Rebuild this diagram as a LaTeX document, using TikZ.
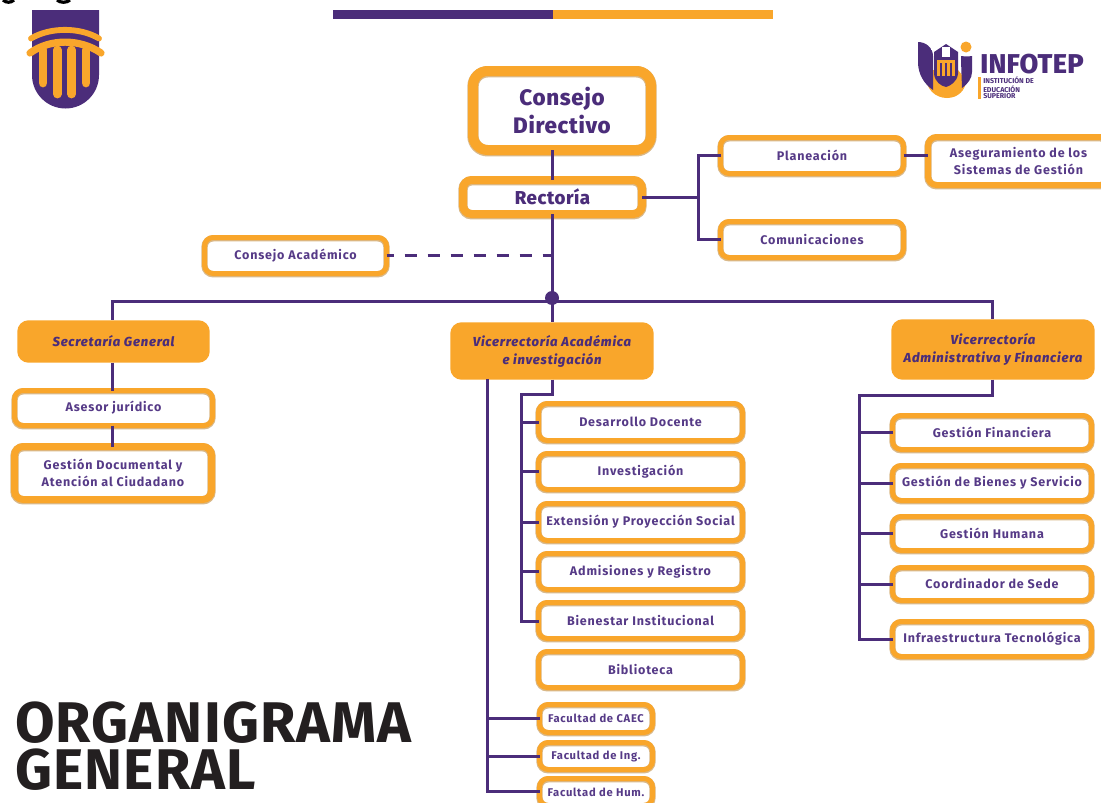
\documentclass[tikz,border=0pt]{standalone}
\usepackage{fontspec}
\usetikzlibrary{shadows}
\setmainfont{Fira Sans}
\newfontfamily\boxf[LetterSpace=6.5]{Fira Sans}
\newfontfamily\hvyf[LetterSpace=3]{Fira Sans ExtraBold}
\newfontfamily\hvyi[LetterSpace=6]{Fira Sans ExtraBold Italic}
\newfontfamily\titlef[LetterSpace=2]{Fira Sans}
\newfontfamily\logof[LetterSpace=1]{Fira Sans ExtraBold}
\definecolor{purp}{HTML}{4B2D7A}
\definecolor{txtp}{HTML}{563A87}
\definecolor{org}{HTML}{F9A62B}
\definecolor{orgd}{HTML}{E0952A}
\definecolor{soft}{HTML}{D9B98A}
\tikzset{
 x=0.75pt,y=-0.75pt,
 conn/.style={draw=purp,line width=2.25pt},
 bxbase/.style={align=center,inner sep=0pt,outer sep=0pt,text=txtp,font=\boxf\bfseries\fontsize{9.4pt}{12.8pt}\selectfont},
 frame/.style={bxbase,draw=org,line width=#1*0.75pt,rounded corners=6.5pt,
   general shadow={fill=orgd,shadow xshift=-0.6pt,shadow yshift=-0.7pt},
   preaction={fill=white},
   preaction={draw=soft,line width=#1*0.75pt+1pt,transform canvas={yshift=-0.6pt}}},
 frame/.default=5,
 small frame/.style={frame,font=\boxf\bfseries\fontsize{8.4pt}{10pt}\selectfont},
 solid box/.style={bxbase,fill=org,rounded corners=8.5pt,text=purp,font=\hvyi\fontsize{9.8pt}{13.5pt}\selectfont},
}
\newcommand\bx[7]{\node[#2,minimum width={(#5-#3)*0.75pt-\pgflinewidth},minimum height={(#6-#4)*0.75pt-\pgflinewidth}] (#1) at ({(#3+#5)/2},{(#4+#6)/2}) {#7};}
\begin{document}
\begin{tikzpicture}
\path[use as bounding box] (0,0) rectangle (1101,803);
\clip (0,0) rectangle (1101,803);
\fill[white] (0,0) rectangle (1101,803);
% top clipped letter fragments
\draw[black,line width=2.4pt] (3,0) .. controls (6,3) and (11,3) .. (14,0);
\draw[black,line width=2.4pt] (57,0) .. controls (60,3) and (67,3) .. (70,0);
% top bar
\fill[purp] (333,10) rectangle (553,19);
\fill[org] (553,10) rectangle (773,19);
% left crest
\fill[purp] (32,10) -- (99,10) -- (99,75) arc[start angle=0,end angle=180,radius=33.5] -- cycle;
\foreach \xa/\ya in {43/83,57.3/94,71.6/94,86/83}{
  \draw[org,line width=6.6pt,line cap=round] (\xa,50) -- (\xa,\ya);}
\draw[org,line width=4.4pt,line cap=round] (31,38.5) .. controls (50,27) and (80,27) .. (99,38.5);
\draw[org,line width=5.4pt,line cap=round] (30,53) .. controls (50,38.5) and (80,38.5) .. (101,53);
% right logo
\fill[org] (925,72) .. controls (925,90) and (936,98) .. (947,98) .. controls (958,98) and (966,90) .. (966,80) -- (958,70) -- (932,70) -- cycle;
\fill[purp] (918,42) .. controls (926,42) and (933,48) .. (933,56) -- (933,90) .. controls (924,84) and (918,74) .. (918,62) -- cycle;
\fill[purp] (961,56) .. controls (966,57) and (972,56) .. (972,56) -- (972,72) .. controls (972,78) and (968,84) .. (962,88) -- (961,60) -- cycle;
\fill[white] (931,42) rectangle (960,50);
\fill[purp] (934,52) -- (946,44) -- (958,52) -- (958,74) .. controls (957,82) and (950,86) .. (946,87) .. controls (941,86) and (935,82) .. (934,74) -- cycle;
\fill[org] (937,60) rectangle (955,76);
\foreach \xa in {941,946,951}{\draw[purp,line width=0.8pt] (\xa,63) -- (\xa,76);}
\fill[white] (942,47) rectangle (950,57);
\fill[org] (966,47) circle (5.5);
\node[anchor=west,inner sep=0pt,text=purp,font=\logof\fontsize{20.4pt}{21pt}\selectfont] (inf) at (980,64) {INFOTEP};
\fill[org] (977.5,77) rectangle (980.5,99);
\node[anchor=west,align=left,inner sep=0pt,text=purp,font=\bfseries\fontsize{5.3pt}{5pt}\selectfont] (ies) at (983,88) {INSTITUCIÓN DE\\EDUCACIÓN\\SUPERIOR};
% boxes
\bx{cd}{frame=10,font=\hvyf\fontsize{16.8pt}{21pt}\selectfont,rounded corners=11pt,text=purp}{468}{66}{656}{155}{Consejo\\Directivo}
\bx{rec}{frame=8,font=\hvyf\fontsize{14pt}{14pt}\selectfont,text=purp}{459}{176}{646}{218}{Rectoría}
\bx{plan}{frame}{718}{135}{906}{176}{Planeación}
\bx{aseg}{frame=6}{925}{134}{1112}{188}{Aseguramiento de los\\Sistemas de Gestión}
\bx{com}{frame}{718}{219}{906}{260}{Comunicaciones}
\bx{ca}{frame}{202}{235}{389}{276}{Consejo Académico}
\bx{sg}{solid box}{17}{320}{210}{363}{Secretaría General}
\bx{aj}{frame}{12}{388}{215}{428}{Asesor jurídico}
\bx{gd}{frame=7}{11}{443}{215}{503}{Gestión Documental y\\Atención al Ciudadano}
\bx{va}{solid box}{450}{322}{654}{380}{Vicerrectoría Académica\\e investigación}
\bx{vf}{solid box}{891}{319}{1095}{380}{Vicerrectoría\\Administrativa y Financiera}
\bx{d1}{frame}{536}{401}{745}{443}{Desarrollo Docente}
\bx{d2}{frame}{536}{451}{745}{492}{Investigación}
\bx{d3}{frame}{536}{501}{745}{543}{Extensión y Proyección Social}
\bx{d4}{frame}{536}{551}{745}{592}{Admisiones y Registro}
\bx{d5}{frame}{536}{600}{745}{641}{Bienestar Institucional}
\bx{d6}{frame}{536}{649}{745}{690}{Biblioteca}
\bx{f1}{small frame}{537}{702}{655}{735}{Facultad de CAEC}
\bx{f2}{small frame}{537}{740}{655}{772}{Facultad de Ing.}
\bx{f3}{small frame}{537}{776}{655}{808}{Facultad de Hum.}
\bx{r1}{frame}{890}{413}{1094}{452}{Gestión Financiera}
\bx{r2}{frame}{890}{463}{1094}{503}{Gestión de Bienes y Servicio}
\bx{r3}{frame}{890}{514}{1094}{553}{Gestión Humana}
\bx{r4}{frame}{890}{565}{1094}{603}{Coordinador de Sede}
\bx{r5}{frame}{890}{619}{1094}{659}{Infraestructura Tecnológica}
% junctions
\coordinate (hub) at (552,298);
\coordinate (busL) at (112,301);
\coordinate (busR) at (992,301);
\coordinate (dashend) at (552,255);
\coordinate (rj) at (698,197);
\coordinate (vc1) at (487,380);
\coordinate (vc1b) at (487,791);
\coordinate (vc2) at (552,394);
\coordinate (vc2c) at (521,394);
\coordinate (vc2b) at (521,621);
\coordinate (vr1) at (992,395);
\coordinate (vr2) at (859,395);
\coordinate (vr2b) at (859,639);
\path[conn] (hub |- cd.south) -- (hub |- rec.north);
\path[conn] (hub |- rec.south) -- (hub);
\path[conn] (hub) -- (hub |- va.north);
\path[conn,line cap=rect] (busL) -- (busR);
\path[conn] (busL) -- (busL |- sg.north);
\path[conn] (busR) -- (busR |- vf.north);
\path[conn] (busL |- sg.south) -- (busL |- aj.north);
\path[conn] (busL |- aj.south) -- (busL |- gd.north);
\path[conn,dash pattern=on 9pt off 8.25pt,dash phase=3.75pt] (ca.east) -- (ca.east -| dashend);
\path[conn] (rec.east |- rj) -- (rj);
\path[conn] (rj) |- (plan.west);
\path[conn] (rj) |- (com.west);
\path[conn] (plan.east) -- (plan.east -| aseg.west);
\path[conn,line cap=rect] (vc1) -- (vc1b);
\path[conn] (vc1 |- f1.west) -- (f1.west);
\path[conn] (vc1 |- f2.west) -- (f2.west);
\path[conn] (vc1b) -- (vc1b -| f3.west);
\path[conn,line join=miter] (vc2 |- va.south) -- (vc2) -- (vc2c) -- (vc2b) -- (vc2b -| d5.west);
\path[conn] (vc2c |- d1.west) -- (d1.west);
\path[conn] (vc2c |- d2.west) -- (d2.west);
\path[conn] (vc2c |- d3.west) -- (d3.west);
\path[conn] (vc2c |- d4.west) -- (d4.west);
\path[conn,line join=miter] (vr1 |- vf.south) -- (vr1) -- (vr2) -- (vr2b) -- (vr2b -| r5.west);
\path[conn] (vr2 |- r1.west) -- (r1.west);
\path[conn] (vr2 |- r2.west) -- (r2.west);
\path[conn] (vr2 |- r3.west) -- (r3.west);
\path[conn] (vr2 |- r4.west) -- (r4.west);
\fill[purp] (hub) circle (7);
% title
\node[anchor=north west,align=left,inner sep=0pt,text={rgb,255:red,35;green,31;blue,32},font=\titlef\bfseries\fontsize{43pt}{34.6pt}\selectfont] (ttl) at (15,702) {ORGANIGRAMA\\GENERAL};
\end{tikzpicture}
\end{document}
